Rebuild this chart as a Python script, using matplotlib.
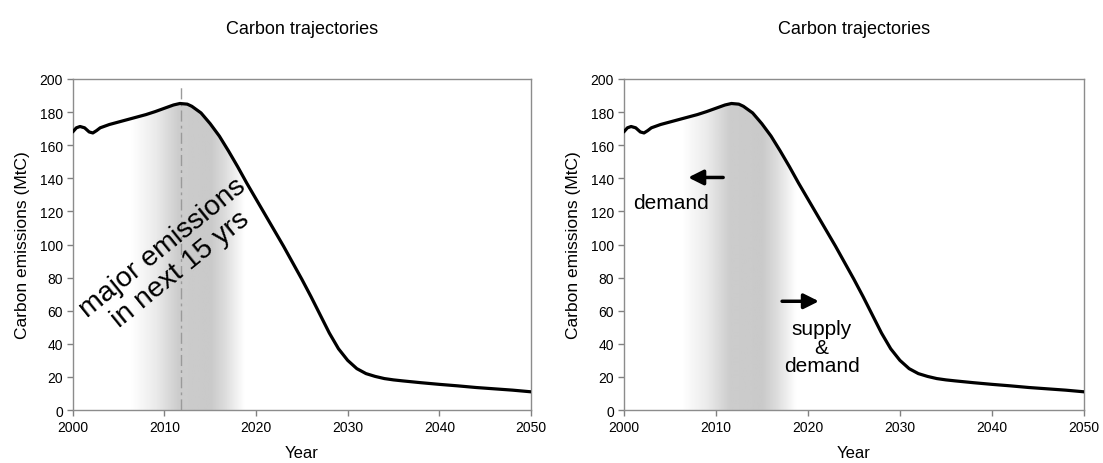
import matplotlib
matplotlib.use("agg")
import matplotlib.pyplot as plt
import numpy as np

plt.rcParams["font.family"] = ["Liberation Sans", "DejaVu Sans"]

years = [2000, 2000.4, 2000.8, 2001.3, 2001.8, 2002.2, 2002.6, 2003, 2004, 2005,
         2006, 2007, 2008, 2009, 2010, 2011, 2011.7, 2012.5, 2013, 2014,
         2015, 2016, 2017, 2018, 2019, 2020, 2021, 2022, 2023, 2024,
         2025, 2026, 2027, 2028, 2029, 2030, 2031, 2032, 2033, 2034,
         2035, 2036, 2038, 2040, 2042, 2044, 2046, 2048, 2050]
emissions = [168, 170.5, 171.3, 170.5, 168, 167.4, 168.8, 170.5, 172.5, 174,
             175.5, 177, 178.5, 180.3, 182.3, 184.3, 185.2, 184.8, 183.5, 179.5,
             173, 165.5, 156.5, 147, 137, 127.5, 118, 108.5, 99, 89,
             79, 68.5, 57.5, 46.5, 37, 30, 25, 22, 20.3, 19,
             18.2, 17.6, 16.5, 15.5, 14.6, 13.6, 12.8, 12, 11]

xticks = [2000, 2010, 2020, 2030, 2040, 2050]
yticks = [0, 20, 40, 60, 80, 100, 120, 140, 160, 180, 200]
peak_year = 2011.8

# gradient band (style): grey level at a few years
shade_x = [2000, 2006.3, 2009, 2011.5, 2015, 2016.5, 2018.7, 2050]
shade_v = [1.0, 1.0, 0.92, 0.8, 0.79, 0.86, 1.0, 1.0]

fig = plt.figure(figsize=(11.03, 4.64), dpi=100)
ax1 = fig.add_axes([0.0659, 0.1142, 0.4155, 0.7134])
ax2 = fig.add_axes([0.5655, 0.1142, 0.4173, 0.7134])

grid = np.linspace(2000, 2050, 1000)
row = np.interp(grid, shade_x, shade_v)

for ax in (ax1, ax2):
    poly = ax.fill_between(years, 0, emissions, color="none", lw=0)
    img = ax.imshow(row[np.newaxis, :], cmap="gray", vmin=0, vmax=1,
                    extent=[2000, 2050, 0, 200], aspect="auto", zorder=1,
                    interpolation="bilinear")
    img.set_clip_path(poly.get_paths()[0], transform=ax.transData)
    ax.plot(years, emissions, color="black", lw=2.3, zorder=3,
            solid_joinstyle="round", solid_capstyle="round")
    ax.set_xlim(2000, 2050)
    ax.set_ylim(0, 200)
    ax.set_xticks(xticks)
    ax.set_yticks(yticks)
    ax.tick_params(direction="out", length=4, width=1, color="#808080",
                   labelsize=10, pad=3)
    for s in ax.spines.values():
        s.set_color("#8c8c8c")
        s.set_linewidth(1)
    ax.set_xlabel("Year", fontsize=12, labelpad=8)
    ax.set_ylabel("Carbon emissions (MtC)", fontsize=12.5, labelpad=7)
    ax.set_title("Carbon trajectories", fontsize=13, pad=33)

ax1.plot([peak_year, peak_year], [0, 197], color="#9a9a9a", lw=1,
         ls=(0, (8, 3, 2, 3)), zorder=2)
ax1.text(2010.8, 92, "major emissions\nin next 15 yrs", fontsize=20.5,
         rotation=39, ha="center", va="center", rotation_mode="anchor",
         multialignment="center", linespacing=1.1, zorder=4)

ax2.annotate("", xy=(2007.0, 140.5), xytext=(2010.8, 140.5),
             arrowprops=dict(arrowstyle="-|>,head_length=0.9,head_width=0.45",
                             color="black", lw=2.5, shrinkA=0, shrinkB=0))
ax2.text(2005.1, 125.5, "demand", fontsize=15, ha="center", va="center")
ax2.annotate("", xy=(2021.2, 65.7), xytext=(2017.2, 65.7),
             arrowprops=dict(arrowstyle="-|>,head_length=0.9,head_width=0.45",
                             color="black", lw=2.5, shrinkA=0, shrinkB=0))
ax2.text(2021.5, 38, "supply\n&\ndemand", fontsize=15, ha="center",
         va="center", multialignment="center", linespacing=0.95)

fig.savefig("out.png", dpi=100, facecolor="white")
